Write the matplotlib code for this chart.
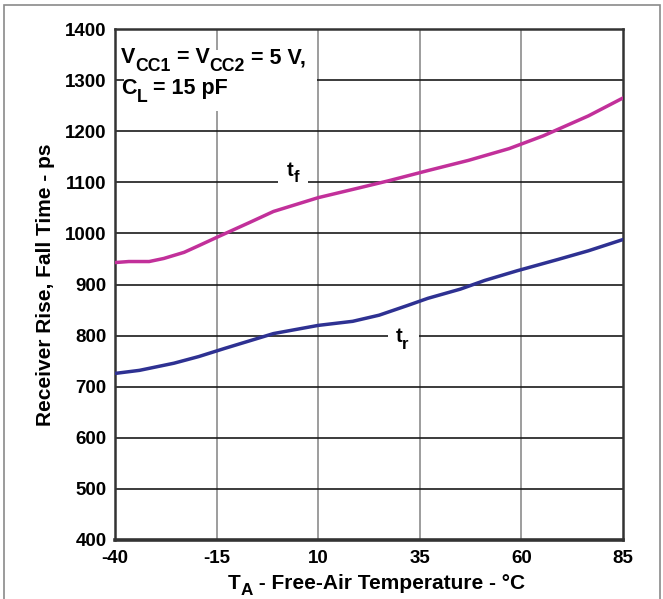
import matplotlib
matplotlib.use("Agg")
import matplotlib.pyplot as plt
from matplotlib.patches import Rectangle

plt.rcParams["font.family"] = ["Liberation Sans", "DejaVu Sans"]
plt.rcParams["font.weight"] = "bold"
plt.rcParams["axes.unicode_minus"] = False

# temperature (degC) -> time (ps)
TEMP_F = [-40, -36.6, -31.6, -28, -23, -19.4, -14.5, -7, -1, 10, 20, 27.3, 37, 47, 57, 65.4, 76.5, 85]
TF_PS = [943, 945, 945, 951, 963, 976, 994, 1021, 1043, 1070, 1089, 1103, 1123, 1143, 1166, 1191, 1230, 1265]
TEMP_R = [-40, -34, -25.5, -19.4, -13, -1, 10, 18.5, 25, 32, 37, 45, 51, 59, 69, 76.5, 85]
TR_PS = [726, 732, 746, 759, 775, 804, 820, 828, 840, 859, 873, 891, 908, 927, 949, 966, 988]

X_TICKS = [-40, -15, 10, 35, 60, 85]
Y_TICKS = list(range(400, 1401, 100))

C_FALL = "#c2309a"
C_RISE = "#2e3192"


def rich_text(ax, x, y, parts, size, sub_scale=0.82, drop=5.5):
    """draw text pieces left to right, subscripts smaller and lowered (offsets in points)"""
    renderer = ax.figure.canvas.get_renderer()
    dx = 0.0
    for s, sub in parts:
        t = ax.annotate(s, (x, y), xytext=(dx, -drop if sub else 0), textcoords="offset points",
                        fontsize=size * sub_scale if sub else size, fontweight="bold",
                        ha="left", va="baseline", zorder=4, annotation_clip=False)
        dx += t.get_window_extent(renderer).width * 72.0 / ax.figure.dpi


fig = plt.figure(figsize=(6.63, 5.99), dpi=100)
ax = fig.add_axes([0.1735, 0.0985, 0.766, 0.853])

# figure frame
fig.patches.append(Rectangle((4 / 663, -0.01), 656 / 663, 1 - 5 / 599 + 0.01, transform=fig.transFigure,
                             fill=False, edgecolor="#8a8a8a", linewidth=1.2))

for xv in X_TICKS[1:-1]:
    ax.axvline(xv, color="#8c8c8c", linewidth=1.2, zorder=1)
for yv in Y_TICKS[1:-1]:
    ax.axhline(yv, color="#1a1a1a", linewidth=1.2, zorder=1)

# white patches where the labels interrupt the grid
for (x0, x1, y0, y1) in [(-37.7, 9.7, 1240, 1359), (0.1, 7.5, 1085, 1120), (27.2, 34.8, 780, 815)]:
    ax.add_patch(Rectangle((x0, y0), x1 - x0, y1 - y0, facecolor="white", edgecolor="none", zorder=1.5))

ax.plot(TEMP_F, TF_PS, color=C_FALL, linewidth=2.5, zorder=3)
ax.plot(TEMP_R, TR_PS, color=C_RISE, linewidth=2.5, zorder=3)

ax.set_xlim(-40, 85)
ax.set_ylim(400, 1400)
ax.set_xticks(X_TICKS)
ax.set_yticks(Y_TICKS)
ax.tick_params(length=0, labelsize=13.5)
ax.tick_params(axis="y", pad=6)
ax.tick_params(axis="x", pad=7)
for lab in ax.get_xticklabels() + ax.get_yticklabels():
    lab.set_fontweight("bold")
for s in ax.spines.values():
    s.set_color("#333333")
    s.set_linewidth(1.8)
ax.spines["bottom"].set_linewidth(2.6)

ax.set_ylabel("Receiver Rise, Fall Time - ps", fontsize=15, fontweight="bold", labelpad=7)

rich_text(ax, -38.5, 1333, [("V", False), ("CC1", True), (" = V", False), ("CC2", True), (" = 5 V,", False)], 15.5)
rich_text(ax, -38.5, 1273, [("C", False), ("L", True), (" = 15 pF", False)], 15.5)
rich_text(ax, 2.3, 1112, [("t", False), ("f", True)], 14.5, drop=4.5)
rich_text(ax, 29.0, 788, [("t", False), ("r", True)], 14.5, drop=5)

# x axis title with subscript A
rich_text(ax, -12.2, 304, [("T", False), ("A", True), (" - Free-Air Temperature - °C", False)], 15, drop=4.5)

fig.savefig("out.png", dpi=100)
